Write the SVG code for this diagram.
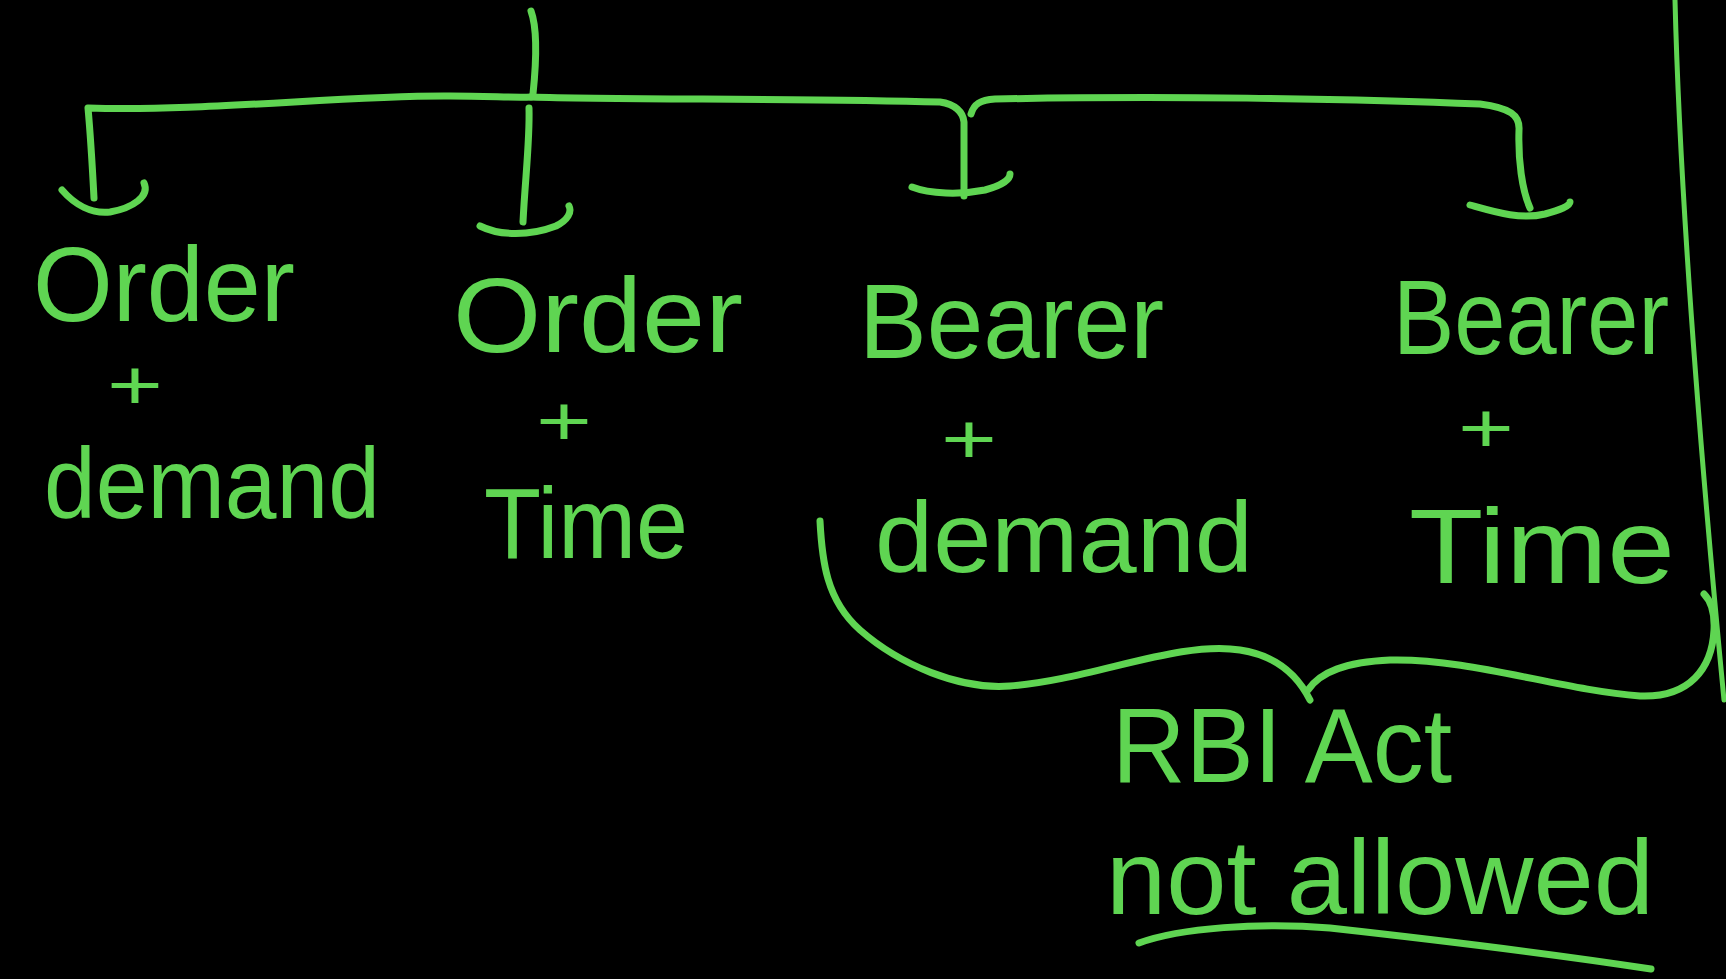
<svg xmlns="http://www.w3.org/2000/svg" width="1726" height="979" viewBox="0 0 1726 979">
  <style>
    .ink { fill: none; stroke: #5fd552; stroke-width: 7; stroke-linecap: round; stroke-linejoin: round; }
    .thin { stroke-width: 5; }
    .lbl { fill: #5fd552; font-family: "Liberation Sans", "DejaVu Sans", sans-serif; font-size: 105px; }
    .low { font-size: 100px; }
    .plus { fill: #5fd552; font-family: "Liberation Sans", "DejaVu Sans", sans-serif; font-size: 70px; }
  </style>
  <rect width="1726" height="979" fill="#000"/>

  <!-- tree lines, hook-style arrowheads, page margin, grouping brace, underline -->
  <g id="connectors">
    <path class="ink" d="M 531 11 C 538 30 536 65 533 94"/>
    <path class="ink" d="M 94 198 C 92 160 90 130 88 108 C 200 112 350 95 450 96 C 490 96 515 98 531 97"/>
    <path class="ink" d="M 531 97 C 620 100 800 98 940 102 C 955 104 963 112 964 122 L 964 196"/>
    <path class="ink" d="M 971 114 C 974 104 980 100 995 99 C 1150 96 1350 98 1480 104 C 1510 108 1520 115 1519 130 C 1518 160 1522 190 1530 208"/>
    <path class="ink" d="M 529 108 C 530 140 525 180 523 222"/>

    <path class="ink" d="M 62 190 C 75 205 92 214 110 212 C 133 208 150 196 144 183"/>
    <path class="ink" d="M 480 226 C 500 236 530 236 556 226 C 568 220 572 212 569 206"/>
    <path class="ink" d="M 912 187 C 930 194 960 195 985 190 C 1000 186 1010 180 1010 174"/>
    <path class="ink" d="M 1470 205 C 1495 212 1520 220 1545 214 C 1560 210 1570 206 1570 202"/>

    <path class="ink thin" d="M 1675 0 C 1680 200 1700 450 1724 700"/>

    <path class="ink" d="M 820 521 C 822 560 826 600 860 630 C 900 665 960 690 1010 686 C 1090 680 1180 640 1240 650 C 1280 656 1300 680 1310 700"/>
    <path class="ink" d="M 1308 690 C 1320 672 1345 662 1390 660 C 1470 658 1560 690 1640 696 C 1690 698 1712 668 1714 630 C 1715 610 1710 600 1704 594"/>

    <path class="ink" d="M 1139 943 C 1180 928 1260 922 1330 928 C 1420 938 1560 955 1651 969"/>
  </g>

  <g id="order-demand">
    <text class="lbl" x="33" y="321" textLength="262" lengthAdjust="spacingAndGlyphs">Order</text>
    <text class="plus" x="107" y="409" textLength="56" lengthAdjust="spacingAndGlyphs">+</text>
    <text class="lbl low" x="44" y="518" textLength="336" lengthAdjust="spacingAndGlyphs">demand</text>
  </g>

  <g id="order-time">
    <text class="lbl" x="453" y="352" textLength="290" lengthAdjust="spacingAndGlyphs">Order</text>
    <text class="plus" x="536" y="445" textLength="56" lengthAdjust="spacingAndGlyphs">+</text>
    <text class="lbl low" x="484" y="558" textLength="204" lengthAdjust="spacingAndGlyphs">Time</text>
  </g>

  <g id="bearer-demand">
    <text class="lbl" x="859" y="358" textLength="305" lengthAdjust="spacingAndGlyphs">Bearer</text>
    <text class="plus" x="941" y="463" textLength="56" lengthAdjust="spacingAndGlyphs">+</text>
    <text class="lbl low" x="875" y="572" textLength="378" lengthAdjust="spacingAndGlyphs">demand</text>
  </g>

  <g id="bearer-time">
    <text class="lbl" x="1393" y="354" textLength="276" lengthAdjust="spacingAndGlyphs">Bearer</text>
    <text class="plus" x="1458" y="452" textLength="56" lengthAdjust="spacingAndGlyphs">+</text>
    <text class="lbl" x="1409" y="583" textLength="266" lengthAdjust="spacingAndGlyphs">Time</text>
  </g>

  <g id="rbi-note">
    <text class="lbl" x="1112" y="782" textLength="340" lengthAdjust="spacingAndGlyphs">RBI Act</text>
    <text class="lbl" x="1106" y="914" textLength="548" lengthAdjust="spacingAndGlyphs">not allowed</text>
  </g>
</svg>
